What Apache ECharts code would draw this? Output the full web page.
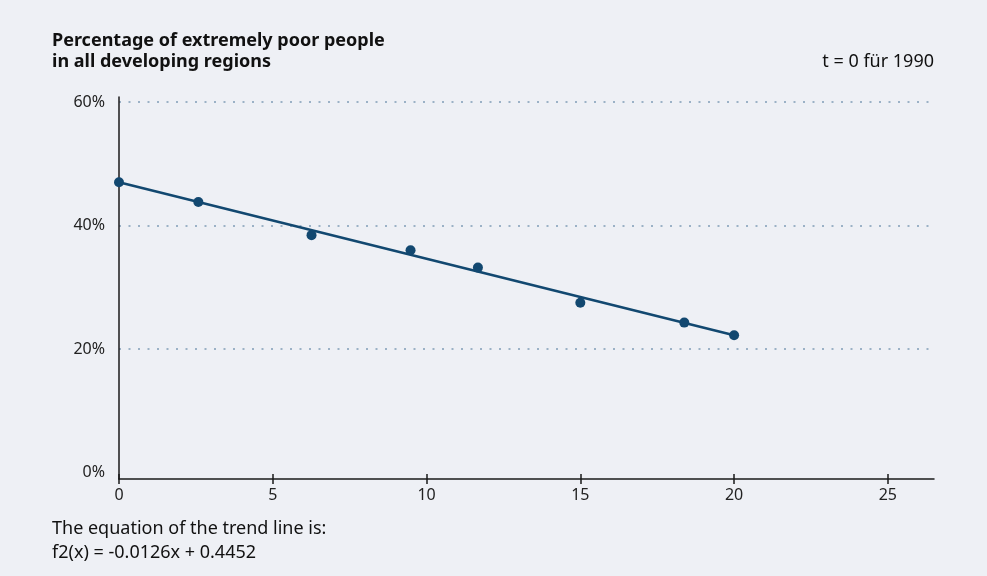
<!DOCTYPE html>
<html>
<head>
<meta charset="utf-8">
<script src="https://cdn.jsdelivr.net/npm/echarts@6/dist/echarts.min.js"></script>
<style>
html,body{margin:0;padding:0;background:#eef0f5;}
#chart{width:987px;height:576px;}
</style>
</head>
<body>
<div id="chart"></div>
<script>
// t values (years since 1990)
const tValues = [0, 2.58, 6.26, 9.48, 11.67, 15.0, 18.38, 20.0];
// share of extremely poor people, %
const povertyShare = [47.0, 43.8, 38.45, 36.0, 33.2, 27.5, 24.3, 22.25];
// trend line endpoints
const trendX = [0, 20];
const trendY = [47.0, 22.25];
const xTicks = [0, 5, 10, 15, 20, 25];
const yTicks = [0, 20, 40, 60];
const yGridTicks = [20, 40, 60];

const titleText = 'Percentage of extremely poor people\nin all developing regions';
const noteText = 't = 0 für 1990';
const footText = 'The equation of the trend line is:\nf2(x) = -0.0126x + 0.4452';

const FONT = '"Noto Sans", "Open Sans", sans-serif';
const DARK = '#124870';

const chart = echarts.init(document.getElementById('chart'));
const xBase = {
  type: 'value', min: 0, max: 26.5, position: 'bottom',
  splitLine: {show: false}
};
chart.setOption({
  backgroundColor: '#eef0f5',
  animation: false,
  grid: {left: 119, right: 53, top: 97, bottom: 97},
  xAxis: [
    Object.assign({}, xBase, {
      axisLine: {show: true, onZero: false, lineStyle: {color: '#1a1a1a', width: 1.5}},
      axisTick: {show: true, inside: false, length: 5, customValues: xTicks, lineStyle: {color: '#1a1a1a', width: 1.5}},
      axisLabel: {customValues: xTicks, color: '#222', fontSize: 16, fontFamily: FONT, margin: 8}
    }),
    Object.assign({}, xBase, {
      axisLine: {show: false, onZero: false},
      axisTick: {show: true, inside: true, length: 5, customValues: xTicks, lineStyle: {color: '#1a1a1a', width: 1.5}},
      axisLabel: {show: false}
    })
  ],
  yAxis: {
    type: 'value', min: -1, max: 60.8,
    axisLine: {show: true, onZero: false, lineStyle: {color: '#1a1a1a', width: 1.5}},
    axisTick: {show: false, customValues: yGridTicks},
    axisLabel: {customValues: yTicks, formatter: v => v + '%', color: '#222', fontSize: 16, fontFamily: FONT, margin: 14},
    splitLine: {show: true, lineStyle: {color: '#9bb1c6', width: 2, type: [2, 7.5]}}
  },
  graphic: [
    {type: 'text', left: 52, top: 30, style: {text: titleText, font: 'bold 18px ' + FONT, fill: '#111', lineHeight: 21}},
    {type: 'text', right: 53, top: 50, style: {text: noteText, font: '18px ' + FONT, fill: '#111', lineHeight: 24}},
    {type: 'text', left: 52, top: 517, style: {text: footText, font: '18px ' + FONT, fill: '#111', lineHeight: 24}}
  ],
  series: [
    {
      type: 'line', xAxisIndex: 0,
      data: trendX.map((x, i) => [x, trendY[i]]),
      showSymbol: false, symbol: 'none',
      lineStyle: {color: DARK, width: 2.5},
      z: 2
    },
    {
      type: 'scatter', xAxisIndex: 0,
      data: tValues.map((x, i) => [x, povertyShare[i]]),
      symbol: 'circle', symbolSize: 10,
      itemStyle: {color: DARK, opacity: 1},
      z: 3
    }
  ]
});
</script>
</body>
</html>
